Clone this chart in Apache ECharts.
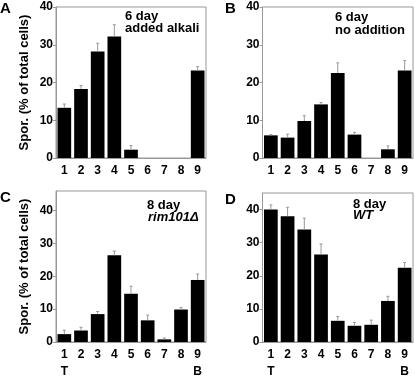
<!DOCTYPE html>
<html>
<head>
<meta charset="utf-8">
<script src="https://cdn.jsdelivr.net/npm/echarts@6/dist/echarts.min.js"></script>
<style>
  html, body { margin: 0; padding: 0; background: #fff; }
  #chart { width: 415px; height: 380px; }
</style>
</head>
<body>
<div id="chart"></div>
<script>
// lanes 1..9, T = top, B = bottom
const categories = ['1', '2', '3', '4', '5', '6', '7', '8', '9'];
const endMarks = ['T', '', '', '', '', '', '', '', 'B'];

const valuesA = [13.3, 18.3, 28.2, 32.2, 2.2, 0, 0, 0, 23.2];
const errTopA = [14.3, 19.2, 30.4, 35.3, 3.3, null, null, null, 24.2];
const valuesB = [6.0, 5.4, 9.8, 14.2, 22.5, 6.2, 0, 2.3, 23.2];
const errTopB = [6.2, 6.3, 11.2, 14.7, 25.2, 6.8, null, 3.2, 25.8];
const valuesC = [2.4, 3.5, 8.5, 26.4, 14.7, 6.6, 0.8, 9.9, 18.9];
const errTopC = [3.6, 4.5, 9.3, 27.7, 17.0, 8.2, 1.2, 10.5, 20.7];
const valuesD = [40, 38, 34, 26.4, 6.4, 4.9, 5.2, 12.4, 22.4];
const errTopD = [41.4, 40.7, 37.4, 29.6, 7.7, 5.9, 6.6, 13.8, 24.0];

const yMax = [40, 40, 46, 45];
const yName = 'Spor. (% of total cells)';

const font = "'Liberation Sans', Arial, Helvetica, sans-serif";
const gray = '#999';

const grids = [
  { left: 56, top: 7, width: 150, height: 151 },
  { left: 262.5, top: 7, width: 150.5, height: 151 },
  { left: 56, top: 191, width: 150, height: 153 },
  { left: 262.5, top: 193, width: 150.5, height: 150.5 },
];

const chart = echarts.init(document.getElementById('chart'));

const panels = [
  [valuesA, errTopA],
  [valuesB, errTopB],
  [valuesC, errTopC],
  [valuesD, errTopD],
];

const series = [];
panels.forEach(([vals, errs], i) => {
  series.push({
    type: 'bar',
    xAxisIndex: i,
    yAxisIndex: i,
    data: vals,
    barCategoryGap: '18%',
    itemStyle: { color: '#000' },
    silent: true,
  });
  series.push({
    type: 'custom',
    xAxisIndex: i,
    yAxisIndex: i,
    silent: true,
    z: 3,
    data: vals.map((v, k) => [k, v, errs[k]]).filter(d => d[2] != null),
    encode: { x: 0, y: 2 },
    renderItem(params, api) {
      const k = api.value(0);
      const p0 = api.coord([k, api.value(1)]);
      const p1 = api.coord([k, api.value(2)]);
      const style = { stroke: gray, lineWidth: 1 };
      return {
        type: 'group',
        children: [
          { type: 'line', shape: { x1: p0[0], y1: p0[1], x2: p1[0], y2: p1[1] }, style },
          { type: 'line', shape: { x1: p1[0] - 1.5, y1: p1[1], x2: p1[0] + 1.5, y2: p1[1] }, style },
        ],
      };
    },
  });
});

const txt = (text, x, y, size, style) => ({
  type: 'text',
  x,
  y,
  style: {
    text,
    font: `${style || 'bold'} ${size}px ${font}`,
    fill: '#000',
    verticalAlign: 'middle',
  },
});

const option = {
  animation: false,
  grid: grids.map(g => Object.assign({ show: true, borderColor: gray, borderWidth: 1 }, g)),
  xAxis: grids.map((g, i) => ({
    type: 'category',
    gridIndex: i,
    data: categories,
    axisLine: { lineStyle: { color: gray } },
    axisTick: { show: false },
    axisLabel: {
      margin: 4,
      fontFamily: font,
      fontWeight: 'bold',
      fontSize: 12,
      color: '#000',
      lineHeight: 17,
      formatter: (v, k) => (i >= 2 && endMarks[k] ? v + '\n' + endMarks[k] : v),
    },
  })),
  yAxis: grids.map((g, i) => ({
    type: 'value',
    gridIndex: i,
    min: 0,
    max: yMax[i],
    interval: 10,
    name: i % 2 === 0 ? yName : '',
    nameLocation: 'middle',
    nameGap: 25,
    nameTextStyle: { fontFamily: font, fontWeight: 'bold', fontSize: 13, color: '#000' },
    splitLine: { show: false },
    axisLine: { show: true, lineStyle: { color: gray } },
    axisTick: { show: true, length: 3, lineStyle: { color: gray } },
    axisLabel: {
      margin: 3,
      showMaxLabel: yMax[i] % 10 === 0,
      fontFamily: font,
      fontWeight: 'bold',
      fontSize: 12,
      color: '#000',
    },
  })),
  series,
  graphic: [
    txt('A', 0, 9, 15),
    txt('B', 225, 9, 15),
    txt('C', 0, 198, 15),
    txt('D', 225, 199.5, 15),
    txt('6 day', 125, 16.5, 13),
    txt('added alkali', 125, 28.5, 13),
    txt('6 day', 335, 17, 13),
    txt('no addition', 335, 30, 13),
    txt('8 day', 147, 205.5, 13),
    txt('rim101Δ', 148, 217.5, 13, 'italic bold'),
    txt('8 day', 353, 204.5, 13),
    txt('WT', 353, 215.5, 13, 'italic bold'),
  ],
};

chart.setOption(option);
</script>
</body>
</html>
